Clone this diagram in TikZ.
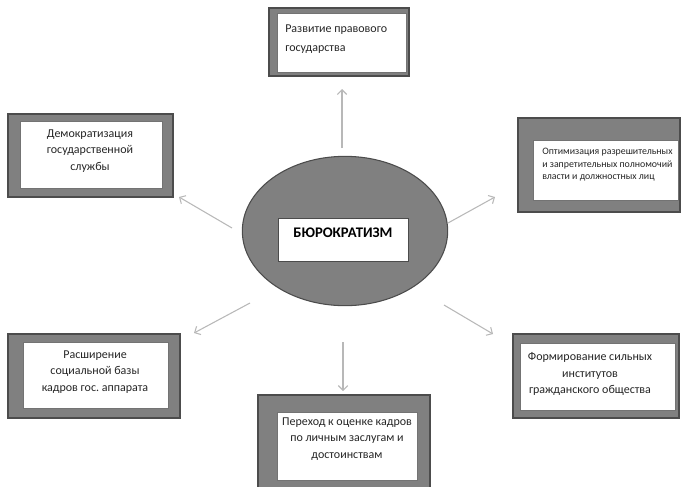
\documentclass[tikz,border=0pt]{standalone}
\usepackage{fontspec}
\setmainfont{Carlito}
\usetikzlibrary{arrows.meta,fit,shapes.geometric}
\frenchspacing
\begin{document}
\begin{tikzpicture}[x=0.75pt,y=-0.75pt,
  frame/.style={draw=black!70, fill=black!50, line width=0.8pt, inner sep=0pt},
  inbox/.style={draw=black!55, fill=white, line width=0.4pt, inner sep=0pt},
  lbl/.style={font=\fontsize{9}{12.3}\selectfont, inner sep=0pt, text=black!85},
  arr/.style={draw=black!28, line width=0.8pt, -{Straight Barb[length=3.5pt,width=7pt]}}]
\useasboundingbox (0,0) rectangle (684,486);
% top
\node[frame, fit={(269,8) (409,76)}] (tOut) {};
\node[inbox, fit={(277,13) (406,72)}] (tIn) {};
\node[lbl, align=left, anchor=west, font=\fontsize{9}{14}\selectfont] (tTxt) at (285,39) {Развитие правового\\государства};
% upper left
\node[frame, fit={(8,114) (173,197)}] (ulOut) {};
\node[inbox, fit={(20,121) (162,188)}] (ulIn) {};
\node[lbl, align=center] (ulTxt) at (90,151) {Демократизация\\государственной\\службы};
% upper right
\node[frame, fit={(518,118) (680,212)}] (urOut) {};
\node[inbox, fit={(533,140) (678,200)}] (urIn) {};
\node[lbl, align=left, anchor=west, font=\fontsize{7.4}{9.4}\selectfont] (urTxt) at (542,165) {Оптимизация разрешительных\\и запретительных полномочий\\власти и должностных лиц};
% bottom left
\node[frame, fit={(8,334) (180,418)}] (blOut) {};
\node[inbox, fit={(23,342) (168,408)}] (blIn) {};
\node[lbl, align=center] (blTxt) at (95,372) {Расширение\\социальной базы\\кадров гос. аппарата};
% bottom right
\node[frame, fit={(513,334) (679,418)}] (brOut) {};
\node[inbox, fit={(520,343) (675,410)}] (brIn) {};
\node[lbl, align=center] (brTxt) at (590,374) {Формирование сильных\\институтов\\гражданского общества};
% bottom center
\node[frame, fit={(258,395) (430,490)}] (bcOut) {};
\node[inbox, fit={(277,412) (417,480)}] (bcIn) {};
\node[lbl, align=center] (bcTxt) at (347,439) {Переход к оценке кадров\\по личным заслугам и\\достоинствам};
% center
\node[ellipse, draw=black!70, fill=black!50, line width=0.8pt, minimum width=154pt, minimum height=112pt, inner sep=0pt] (ell) at (345,231) {};
\node[inbox, draw=black!70, fit={(278,218) (408,261)}] (core) {};
\node[font=\bfseries\fontsize{11}{13}\selectfont, inner sep=0pt] (coreTxt) at (343,233) {БЮРОКРАТИЗМ};
% arrows
\coordinate (a1s) at (342,148); \coordinate (a1e) at (342,89);
\coordinate (a2s) at (232,228); \coordinate (a2e) at (179,197);
\coordinate (a3s) at (448,223); \coordinate (a3e) at (495,197);
\coordinate (a4s) at (250,303); \coordinate (a4e) at (194,333);
\coordinate (a5s) at (444,305); \coordinate (a5e) at (493,334);
\coordinate (a6s) at (343,342); \coordinate (a6e) at (343,391);
\draw[arr] (a1s) -- (a1e);
\draw[arr] (a2s) -- (a2e);
\draw[arr] (a3s) -- (a3e);
\draw[arr] (a4s) -- (a4e);
\draw[arr] (a5s) -- (a5e);
\draw[arr] (a6s) -- (a6e);
\end{tikzpicture}
\end{document}
